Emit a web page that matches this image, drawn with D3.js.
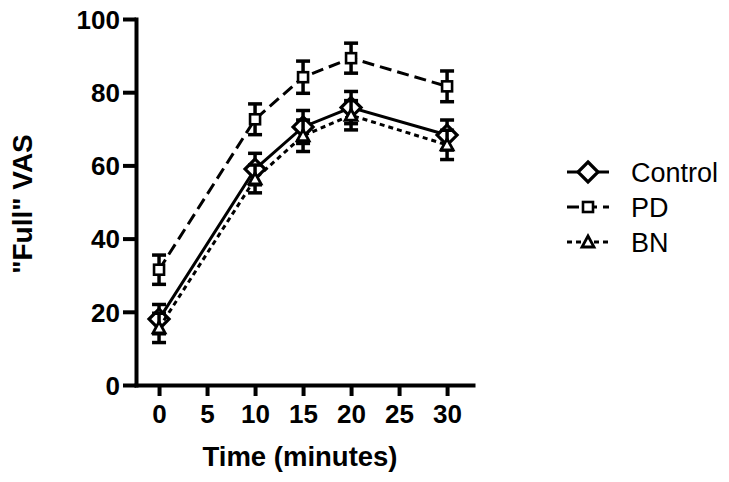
<!DOCTYPE html>
<html>
<head>
<meta charset="utf-8">
<script src="https://cdn.jsdelivr.net/npm/d3@7"></script>
<style>
body { margin: 0; background: #fff; }
text { font-family: "Liberation Sans", Arial, sans-serif; }
</style>
</head>
<body>
<div id="chart"></div>
<script>
// data
var times = [0, 10, 15, 20, 30];
var control = [18, 59, 70.5, 75.8, 68.3];
var controlErr = [4, 4.3, 4.5, 4.4, 4.1];
var pd = [31.5, 72.6, 84.1, 89.3, 81.6];
var pdErr = [4, 4.2, 4.4, 4.1, 4.2];
var bn = [15.6, 56.3, 68.1, 73.7, 65.6];
var bnErr = [4, 3.8, 4.3, 4, 4];
var xTicks = [0, 5, 10, 15, 20, 25, 30];
var yTicks = [0, 20, 40, 60, 80, 100];
var seriesNames = ['Control', 'PD', 'BN'];

var chart_width = 729;
var chart_height = 482;

var svg = d3.select('#chart')
	.append('svg')
	.attr('width', chart_width)
	.attr('height', chart_height);

var x = d3.scaleLinear().domain([-2.4, 32.7]).range([136, 473]);
var y = d3.scaleLinear().domain([0, 100]).range([385, 19]);

// axes
var xAxis = svg.append('g')
	.attr('transform', 'translate(0,385)')
	.call(d3.axisBottom(x).tickValues(xTicks).tickSize(11).tickPadding(7).tickSizeOuter(0));
var yAxis = svg.append('g')
	.attr('transform', 'translate(136,0)')
	.call(d3.axisLeft(y).tickValues(yTicks).tickSize(13).tickPadding(3).tickSizeOuter(0));

[xAxis, yAxis].forEach(function(a){
	a.select('.domain').attr('stroke', '#000').attr('stroke-width', 4).attr('stroke-linecap', 'square');
	a.selectAll('.tick line').attr('stroke', '#000').attr('stroke-width', 4);
	a.selectAll('.tick text')
		.attr('font-family', '"Liberation Sans", Arial, sans-serif')
		.attr('font-size', 26)
		.attr('font-weight', 'bold')
		.attr('fill', '#000');
});
xAxis.selectAll('.tick text').attr('dy', '0.78em');
yAxis.selectAll('.tick text').attr('dy', '0.36em');

// axis titles
svg.append('text')
	.text('Time (minutes)')
	.attr('x', 300)
	.attr('y', 466)
	.attr('text-anchor', 'middle')
	.attr('font-size', 27.5)
	.attr('font-weight', 'bold');
svg.append('text')
	.text('"Full" VAS')
	.attr('transform', 'translate(32,204) rotate(-90)')
	.attr('text-anchor', 'middle')
	.attr('font-size', 28)
	.attr('font-weight', 'bold');

var series = [
	{name: seriesNames[0], values: control, err: controlErr, dash: null, shape: 'diamond'},
	{name: seriesNames[1], values: pd, err: pdErr, dash: '12,6', shape: 'square'},
	{name: seriesNames[2], values: bn, err: bnErr, dash: '5,4', shape: 'triangle'}
];

function marker(g, shape){
	if(shape === 'diamond'){
		g.append('path').attr('d', 'M0,-10L10,0L0,10L-10,0Z')
			.attr('fill', '#fff').attr('stroke', '#000').attr('stroke-width', 3.2);
	} else if(shape === 'square'){
		g.append('rect').attr('x', -5).attr('y', -5).attr('width', 10).attr('height', 10)
			.attr('fill', '#fff').attr('stroke', '#000').attr('stroke-width', 2.6);
	} else {
		g.append('path').attr('d', 'M0,-6L6,5L-6,5Z')
			.attr('fill', '#fff').attr('stroke', '#000').attr('stroke-width', 2.8);
	}
}

var line = d3.line()
	.x(function(d){ return x(d.t); })
	.y(function(d){ return y(d.v); });

series.forEach(function(s){
	var pts = times.map(function(t, i){ return {t: t, v: s.values[i], e: s.err[i]}; });
	svg.append('path')
		.datum(pts)
		.attr('d', line)
		.attr('fill', 'none')
		.attr('stroke', '#000')
		.attr('stroke-width', 3)
		.attr('stroke-dasharray', s.dash);
	// error bars
	var eb = svg.append('g').attr('stroke', '#000').attr('stroke-width', 3.5);
	pts.forEach(function(d){
		eb.append('line')
			.attr('x1', x(d.t)).attr('x2', x(d.t))
			.attr('y1', y(d.v + d.e)).attr('y2', y(d.v - d.e));
		eb.append('line')
			.attr('x1', x(d.t) - 7).attr('x2', x(d.t) + 7)
			.attr('y1', y(d.v + d.e)).attr('y2', y(d.v + d.e));
		eb.append('line')
			.attr('x1', x(d.t) - 7).attr('x2', x(d.t) + 7)
			.attr('y1', y(d.v - d.e)).attr('y2', y(d.v - d.e));
	});
	pts.forEach(function(d){
		var g = svg.append('g').attr('transform', 'translate(' + x(d.t) + ',' + y(d.v) + ')');
		marker(g, s.shape);
	});
});

// legend
var legend = svg.append('g');
series.forEach(function(s, i){
	var ly = 172 + i * 35;
	legend.append('line')
		.attr('x1', 567).attr('x2', 609)
		.attr('y1', ly).attr('y2', ly)
		.attr('stroke', '#000').attr('stroke-width', 3)
		.attr('stroke-dasharray', s.dash);
	var g = legend.append('g').attr('transform', 'translate(588,' + ly + ')');
	marker(g, s.shape);
	legend.append('text')
		.text(s.name)
		.attr('x', 631)
		.attr('y', ly + 10)
		.attr('font-size', 27);
});
</script>
</body>
</html>
